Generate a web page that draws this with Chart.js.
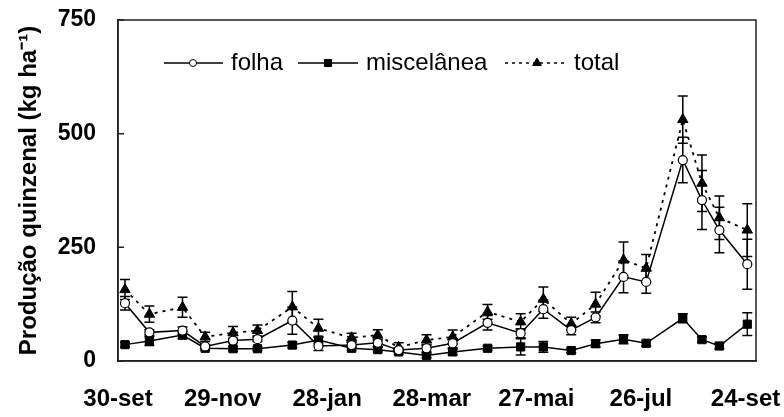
<!DOCTYPE html>
<html><head><meta charset="utf-8">
<script src="https://cdn.jsdelivr.net/npm/chart.js@4.4.0/dist/chart.umd.min.js"></script>
<style>html,body{margin:0;padding:0;background:#fff}#wrap{width:784px;height:417px}</style>
</head><body><div id="wrap"><canvas id="c" width="784" height="417"></canvas></div>
<script>
// Day offsets from 30-set (x positions of the fortnightly samples)
const days = [4,18,37,50,66,80,100,115,134,149,161,177,192,212,231,244,260,274,290,303,324,335,345,361];
const folha = [127,63,67,32,45,48,89,33,35,40,24,28,39,84,61,114,68,96,185,174,442,354,288,213];
const folhaErr = [15,6,8,4,5,5,30,10,6,8,5,8,10,16,10,20,10,12,35,25,50,65,50,55];
const misc = [36,44,57,28,27,27,35,46,28,25,20,12,20,28,31,31,23,38,48,39,94,47,33,81];
const miscErr = [5,10,8,4,5,4,6,8,5,5,5,5,6,5,18,12,5,8,10,6,10,6,6,25];
const total = [157,103,118,53,62,67,119,72,51,57,30,46,53,108,86,136,82,125,222,204,531,391,315,288];
const totalErr = [22,18,22,10,14,12,34,20,10,12,10,12,15,16,18,27,14,26,40,30,52,62,48,58];
const xTickLabels = ["30-set","29-nov","28-jan","28-mar","27-mai","26-jul","24-set"];
const yTickValues = [0,250,500,750];
const seriesNames = ["folha","miscelânea","total"];
const yTitle = "Produção quinzenal (kg ha⁻¹)";

const FONT = '"Liberation Sans", Arial, sans-serif';
const pts = (vals) => days.map((d,i)=>({x:d,y:vals[i]}));

const errorBars = {
  id:'errorBars',
  beforeDatasetDraw(chart, args){
    const ds = chart.data.datasets[args.index];
    if(!ds.err) return;
    const {ctx, scales:{x,y}} = chart;
    ctx.save();
    ctx.strokeStyle = '#000';
    ctx.lineWidth = 1.5;
    ds.data.forEach((p,i)=>{
      const px = x.getPixelForValue(p.x);
      const y1 = y.getPixelForValue(p.y + ds.err[i]);
      const y2 = y.getPixelForValue(p.y - ds.err[i]);
      ctx.beginPath();
      ctx.moveTo(px,y1); ctx.lineTo(px,y2);
      ctx.moveTo(px-5,y1); ctx.lineTo(px+5,y1);
      ctx.moveTo(px-5,y2); ctx.lineTo(px+5,y2);
      ctx.stroke();
    });
    ctx.restore();
  }
};

const frame = {
  id:'frame',
  afterDraw(chart){
    const {ctx, chartArea:a, scales:{y}} = chart;
    ctx.save();
    ctx.strokeStyle = '#222';
    ctx.lineWidth = 1.5;
    ctx.strokeRect(a.left, a.top, a.right-a.left, a.bottom-a.top);
    ctx.beginPath();
    yTickValues.forEach(v=>{ const py = y.getPixelForValue(v); ctx.moveTo(a.left, py); ctx.lineTo(a.left+6, py); });
    ctx.stroke();
    ctx.restore();
  }
};

const customLegend = {
  id:'customLegend',
  afterDraw(chart){
    const {ctx} = chart;
    const yc = 63;
    const items = [
      {x0:164,x1:223,mx:193,tx:231,style:'circle',r:3.5,dash:[]},
      {x0:298,x1:358,mx:328,tx:366,style:'rect',r:5,dash:[]},
      {x0:505,x1:565,mx:537,tx:574,style:'triangle',r:5,dash:[3,4]}
    ];
    items.forEach((it,i)=>{
      const ds = chart.data.datasets[i];
      ctx.save();
      ctx.strokeStyle='#000'; ctx.lineWidth=1.5; ctx.setLineDash(it.dash);
      ctx.beginPath(); ctx.moveTo(it.x0,yc); ctx.lineTo(it.x1,yc); ctx.stroke();
      ctx.setLineDash([]);
      ctx.fillStyle = ds.pointBackgroundColor; ctx.strokeStyle='#000'; ctx.lineWidth=1;
      Chart.helpers.drawPoint(ctx,{pointStyle:it.style,radius:it.r,borderWidth:1,rotation:0},it.mx,yc);
      ctx.fillStyle='#000';
      ctx.font = '24px ' + FONT;
      ctx.textBaseline='middle'; ctx.textAlign='left';
      ctx.fillText(seriesNames[i], it.tx, yc);
      ctx.restore();
    });
  }
};

new Chart(document.getElementById('c'), {
  type:'line',
  data:{
    datasets:[
      {label:seriesNames[0], data:pts(folha), err:folhaErr, borderColor:'#000', borderWidth:1.5,
       pointStyle:'circle', pointRadius:4.5, pointBackgroundColor:'#fff', pointBorderColor:'#000', pointBorderWidth:1.2, tension:0},
      {label:seriesNames[1], data:pts(misc), err:miscErr, borderColor:'#000', borderWidth:1.5,
       pointStyle:'rect', pointRadius:5.8, pointBackgroundColor:'#000', pointBorderColor:'#000', pointBorderWidth:1, tension:0},
      {label:seriesNames[2], data:pts(total), err:totalErr, borderColor:'#000', borderWidth:1.8, borderDash:[3,5],
       pointStyle:'triangle', pointRadius:6, pointBackgroundColor:'#000', pointBorderColor:'#000', pointBorderWidth:1, tension:0}
    ]
  },
  options:{
    responsive:false, animation:false, devicePixelRatio:1,
    layout:{padding:{top:20,right:28,bottom:0,left:0}},
    plugins:{legend:{display:false}, tooltip:{enabled:false}},
    scales:{
      x:{type:'linear', min:0, max:366,
        grid:{display:false}, border:{display:true,color:'#222',width:1.5},
        ticks:{stepSize:60, includeBounds:false, autoSkip:false, maxRotation:0, padding:16, color:'#000',
          font:{family:FONT, size:24, weight:'bold'},
          callback:(v)=> (v % 60 === 0 ? xTickLabels[v/60] : '')},
        afterFit(s){ s.height = 56; s.paddingLeft = 0; s.paddingRight = 0; }
      },
      y:{min:0, max:750,
        grid:{display:false}, border:{display:true,color:'#222',width:1.5},
        ticks:{stepSize:250, padding:14, color:'#000',
          font:{family:FONT, size:23, weight:'bold'}},
        title:{display:true, text:yTitle, color:'#000', padding:{top:15,bottom:0},
          font:{family:FONT, size:24, weight:'bold'}},
        afterFit(s){ s.width = 118; s.paddingTop = 0; s.paddingBottom = 0; }
      }
    }
  },
  plugins:[errorBars, frame, customLegend]
});
</script></body></html>
